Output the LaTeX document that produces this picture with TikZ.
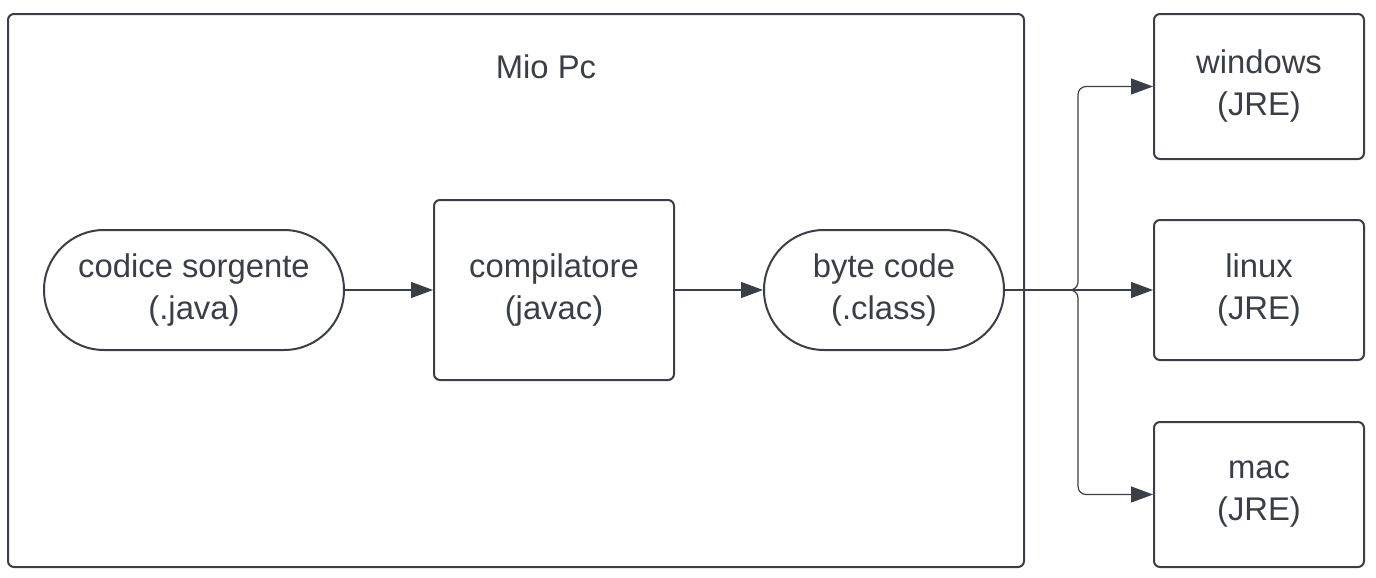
\documentclass[tikz,border=0pt]{standalone}
\usepackage{fontspec}
\setmainfont{Liberation Sans}
\usetikzlibrary{arrows.meta,calc,positioning}
\definecolor{ink}{HTML}{3A3F47}
\tikzstyle{terminal}=[
  draw=ink,
  text=ink,
  line width=1pt,
  rectangle,
  rounded corners=30pt,
  minimum width=150pt,
  minimum height=60pt,
  align=center,
  font={\fontsize{16.4}{21}\selectfont},
]
\tikzstyle{process}=[
  draw=ink,
  text=ink,
  line width=1pt,
  rectangle,
  rounded corners=3pt,
  align=center,
  font={\fontsize{16.4}{21}\selectfont},
]
\tikzstyle{arrow}=[
  draw=ink,
  line width=0.6pt,
  rounded corners=4pt,
]
\tikzset{
  >={Triangle[length=11pt,width=8pt]},
}
\begin{document}
\begin{tikzpicture}[x=0.5pt,y=-0.5pt]
  \useasboundingbox (0,0) rectangle (1376,578);
  % outer frame
  \node (pc) [process, minimum width=508pt, minimum height=276.5pt] at (516,290.5) {};
  \node (title) [text=ink, font={\fontsize{16.4}{21}\selectfont}] at (546,67) {Mio Pc};
  %%
  \node (source) [terminal] at (194,290) {codice sorgente\\(.java)};
  \node (javac) [process, minimum width=120pt, minimum height=90pt] at (554,290) {compilatore\\(javac)};
  \node (bytecode) [terminal, minimum width=120pt] at (884,290) {byte code\\(.class)};
  %%
  \node (windows) [process, minimum width=105pt, minimum height=72.5pt] at (1259,86.5) {windows\\(JRE)};
  \node (linux) [process, minimum width=105pt, minimum height=70pt] at (1259,290) {linux\\(JRE)};
  \node (mac) [process, minimum width=105pt, minimum height=72.5pt] at (1259,494.5) {mac\\(JRE)};
  %%
  \coordinate (fork) at (1078,290);
  \draw [->, arrow] (source) -- (javac);
  \draw [->, arrow] (javac) -- (bytecode);
  \draw [->, arrow] (bytecode.east) -- (fork) |- (windows.west);
  \draw [->, arrow] (bytecode.east) -- (linux.west);
  \draw [->, arrow] (bytecode.east) -- (fork) |- (mac.west);
\end{tikzpicture}
\end{document}
